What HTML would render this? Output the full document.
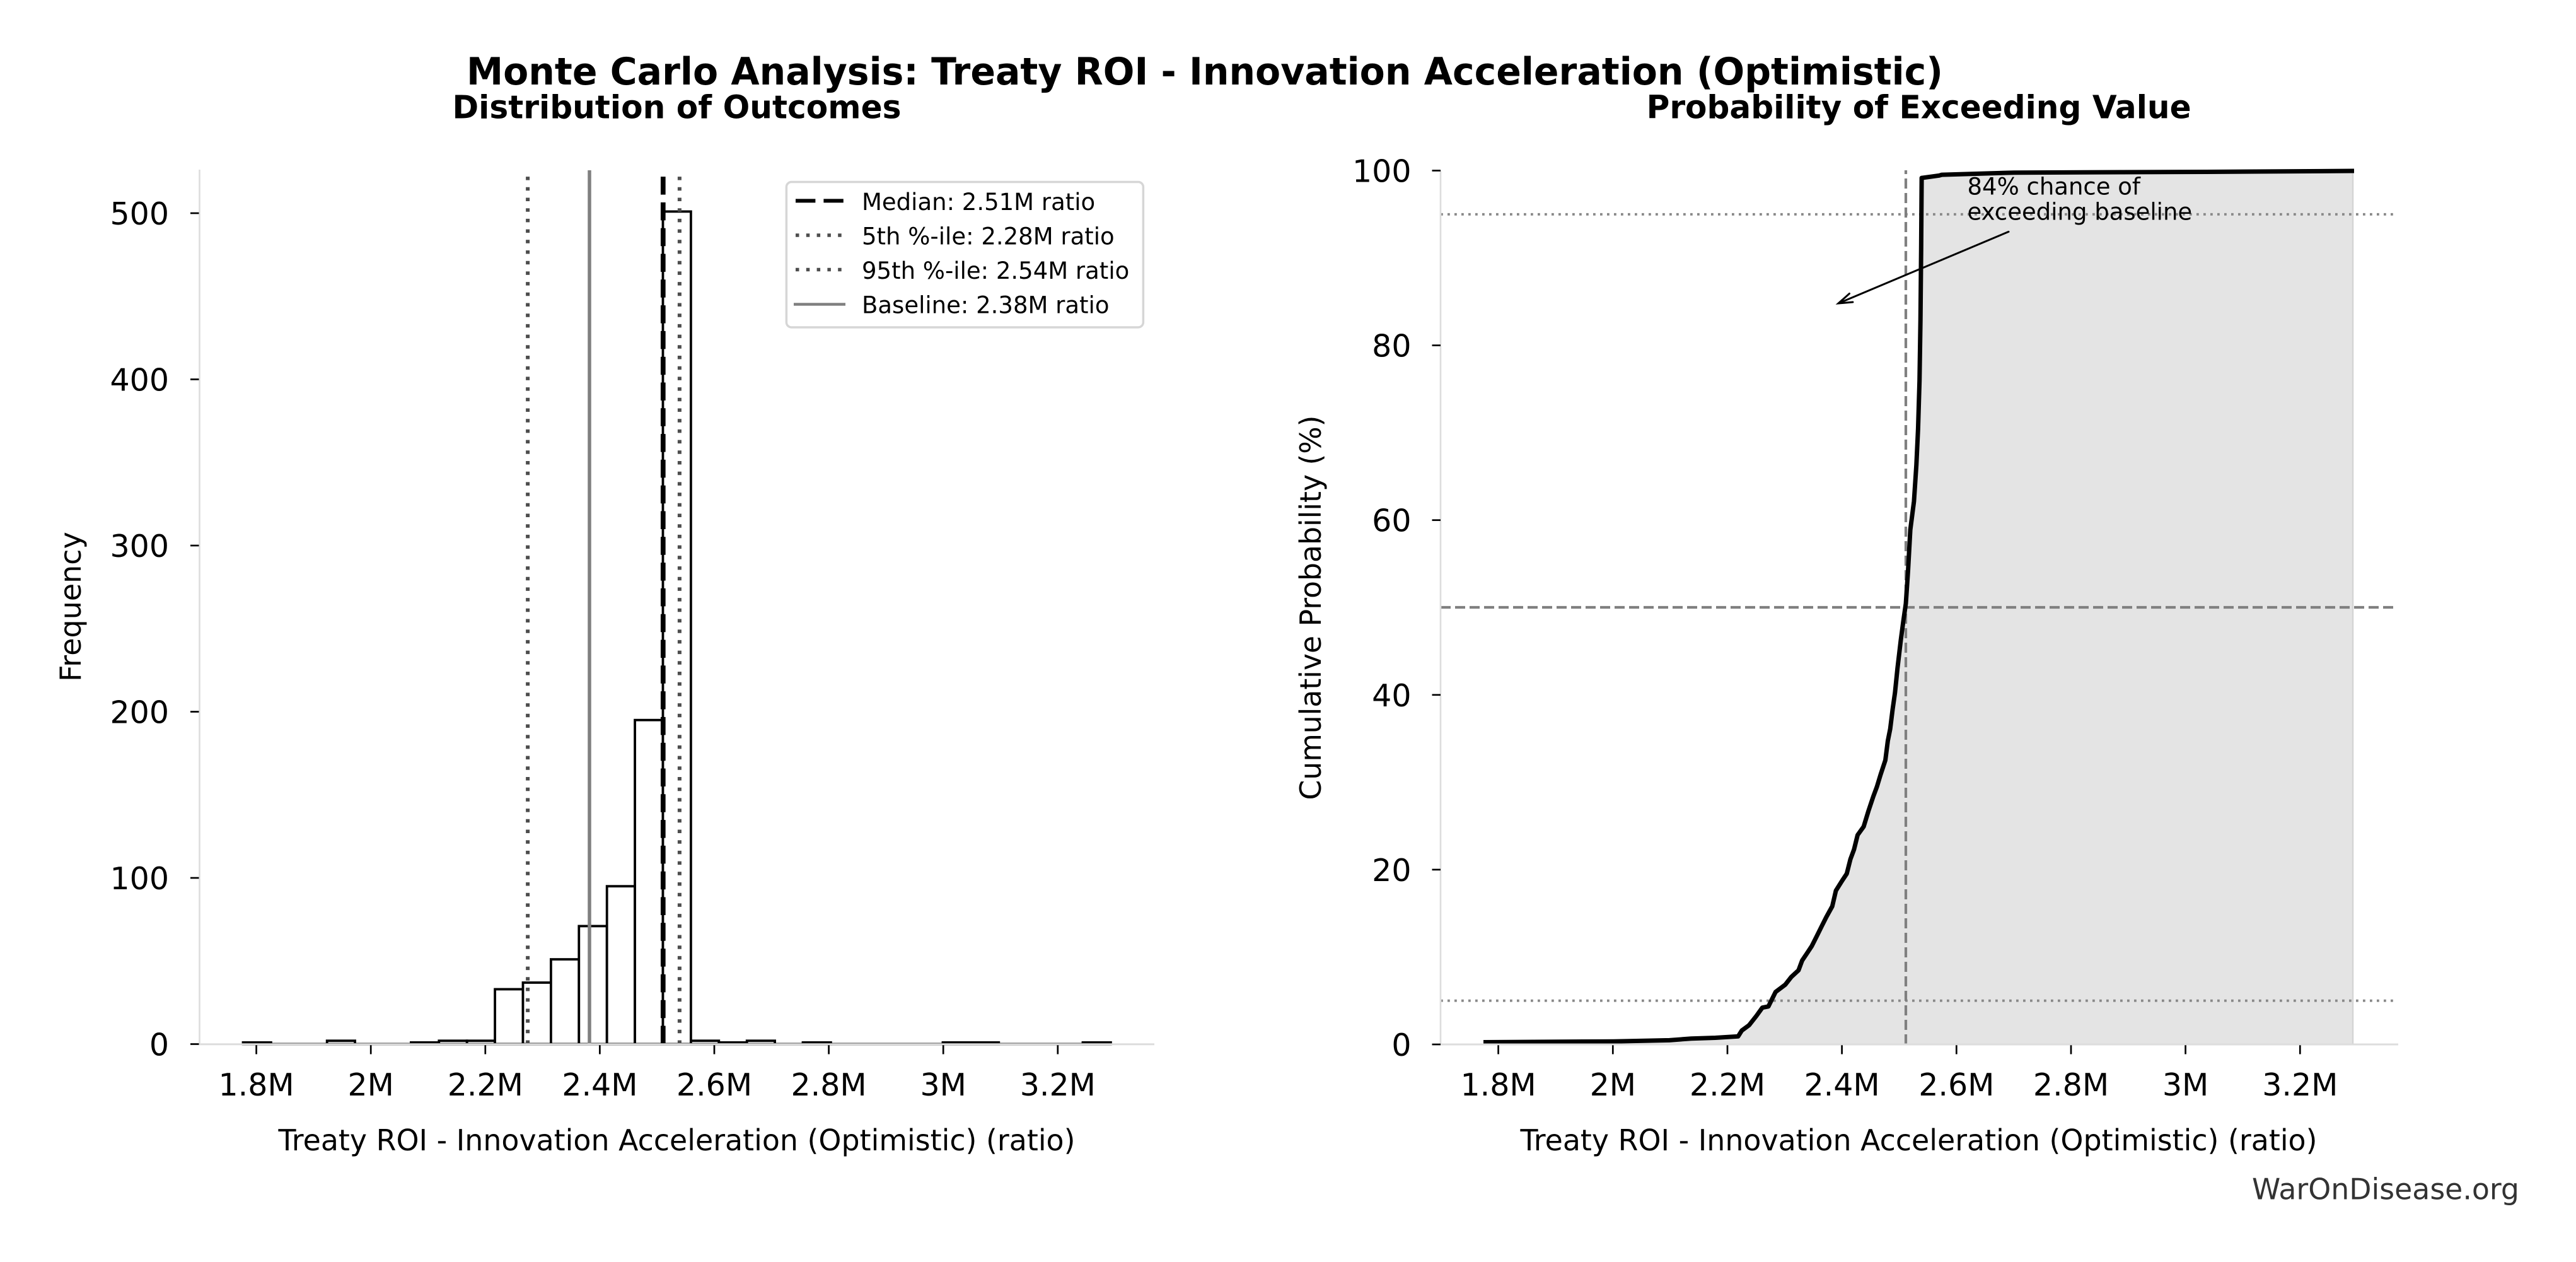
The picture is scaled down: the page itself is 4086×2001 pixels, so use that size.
<!DOCTYPE html>
<html>
<head>
<meta charset="utf-8">
<style>
html,body{margin:0;padding:0;background:#fff;}
svg{display:block;}
text{font-family:"DejaVu Sans","Liberation Sans",sans-serif;fill:#000;}
</style>
</head>
<body>
<svg width="4086" height="2001" viewBox="0 0 4086 2001" xmlns="http://www.w3.org/2000/svg">
<rect x="0" y="0" width="4086" height="2001" fill="#fff"/>

<!-- Titles -->
<text x="740" y="134" font-size="60" font-weight="bold" textLength="2342" lengthAdjust="spacingAndGlyphs">Monte Carlo Analysis: Treaty ROI - Innovation Acceleration (Optimistic)</text>
<text x="1073.5" y="187.5" font-size="51" font-weight="bold" text-anchor="middle" textLength="712" lengthAdjust="spacingAndGlyphs">Distribution of Outcomes</text>
<text x="3043.6" y="187.5" font-size="51" font-weight="bold" text-anchor="middle" textLength="864" lengthAdjust="spacingAndGlyphs">Probability of Exceeding Value</text>

<!-- ================= LEFT CHART ================= -->
<g fill="#fff" stroke="#000" stroke-width="3.8">
<line x1="385.5" y1="1655.5" x2="1761.9" y2="1655.5"/>
<rect x="385.5" y="1652.9" width="44.4" height="2.6"/>
<rect x="518.7" y="1650.2" width="44.4" height="5.3"/>
<rect x="651.9" y="1652.9" width="44.4" height="2.6"/>
<rect x="696.3" y="1650.2" width="44.4" height="5.3"/>
<rect x="740.7" y="1650.2" width="44.4" height="5.3"/>
<rect x="785.1" y="1568.5" width="44.4" height="87"/>
<rect x="829.5" y="1558" width="44.4" height="97.5"/>
<rect x="873.9" y="1521.1" width="44.4" height="134.4"/>
<rect x="918.3" y="1468.4" width="44.4" height="187.1"/>
<rect x="962.7" y="1405.2" width="44.4" height="250.3"/>
<rect x="1007.1" y="1141.7" width="44.4" height="513.8"/>
<rect x="1051.5" y="335.4" width="44.4" height="1320.1"/>
<rect x="1095.9" y="1650.2" width="44.4" height="5.3"/>
<rect x="1140.3" y="1652.9" width="44.4" height="2.6"/>
<rect x="1184.7" y="1650.2" width="44.4" height="5.3"/>
<rect x="1273.5" y="1652.9" width="44.4" height="2.6"/>
<rect x="1495.5" y="1652.9" width="44.4" height="2.6"/>
<rect x="1539.9" y="1652.9" width="44.4" height="2.6"/>
<rect x="1717.5" y="1652.9" width="44.4" height="2.6"/>
</g>

<line x1="837.1" y1="1655" x2="837.1" y2="270" stroke="#4d4d4d" stroke-width="6" stroke-dasharray="5.5 11.2"/>
<line x1="935" y1="1655" x2="935" y2="270" stroke="#808080" stroke-width="5.5"/>
<line x1="1051.8" y1="1655" x2="1051.8" y2="270" stroke="#000" stroke-width="7.7" stroke-dasharray="28.5 12.3"/>
<line x1="1077.9" y1="1655" x2="1077.9" y2="270" stroke="#4d4d4d" stroke-width="6" stroke-dasharray="5.5 11.2"/>

<line x1="316.5" y1="269" x2="316.5" y2="1657" stroke="#dddddd" stroke-width="2.6"/>
<line x1="315.5" y1="1655.8" x2="1831" y2="1655.8" stroke="#dddddd" stroke-width="3"/>

<g stroke="#000" stroke-width="2.7">
<line x1="302" y1="1655.5" x2="315.5" y2="1655.5"/>
<line x1="302" y1="1392" x2="315.5" y2="1392"/>
<line x1="302" y1="1128.5" x2="315.5" y2="1128.5"/>
<line x1="302" y1="865" x2="315.5" y2="865"/>
<line x1="302" y1="601.5" x2="315.5" y2="601.5"/>
<line x1="302" y1="338" x2="315.5" y2="338"/>
</g>
<g font-size="49" text-anchor="end">
<text x="268" y="1673.5">0</text>
<text x="268" y="1410">100</text>
<text x="268" y="1146.5">200</text>
<text x="268" y="883">300</text>
<text x="268" y="619.5">400</text>
<text x="268" y="356">500</text>
</g>

<g stroke="#000" stroke-width="2.7">
<line x1="406.6" y1="1657.3" x2="406.6" y2="1671.5"/>
<line x1="588.2" y1="1657.3" x2="588.2" y2="1671.5"/>
<line x1="769.8" y1="1657.3" x2="769.8" y2="1671.5"/>
<line x1="951.4" y1="1657.3" x2="951.4" y2="1671.5"/>
<line x1="1133" y1="1657.3" x2="1133" y2="1671.5"/>
<line x1="1314.6" y1="1657.3" x2="1314.6" y2="1671.5"/>
<line x1="1496.2" y1="1657.3" x2="1496.2" y2="1671.5"/>
<line x1="1677.8" y1="1657.3" x2="1677.8" y2="1671.5"/>
</g>
<g font-size="49" text-anchor="middle">
<text x="406.6" y="1737">1.8M</text>
<text x="588.2" y="1737">2M</text>
<text x="769.8" y="1737">2.2M</text>
<text x="951.4" y="1737">2.4M</text>
<text x="1133" y="1737">2.6M</text>
<text x="1314.6" y="1737">2.8M</text>
<text x="1496.2" y="1737">3M</text>
<text x="1677.8" y="1737">3.2M</text>
</g>

<text x="1073.5" y="1824" font-size="46.5" text-anchor="middle" textLength="1264" lengthAdjust="spacingAndGlyphs">Treaty ROI - Innovation Acceleration (Optimistic) (ratio)</text>
<text transform="translate(128,962) rotate(-90)" x="0" y="0" font-size="46" text-anchor="middle">Frequency</text>

<rect x="1247.4" y="288.5" width="566" height="230.5" rx="8" ry="8" fill="#fff" stroke="#d6d6d6" stroke-width="3.5"/>
<line x1="1262" y1="318.4" x2="1338" y2="318.4" stroke="#000" stroke-width="6" stroke-dasharray="31.4 13"/>
<line x1="1262" y1="373" x2="1340" y2="373" stroke="#4d4d4d" stroke-width="5.5" stroke-dasharray="5.5 11.3"/>
<line x1="1262" y1="427.5" x2="1340" y2="427.5" stroke="#4d4d4d" stroke-width="5.5" stroke-dasharray="5.5 11.3"/>
<line x1="1259" y1="482.5" x2="1341" y2="482.5" stroke="#808080" stroke-width="4.4"/>
<g font-size="37">
<text x="1367" y="332.9">Median: 2.51M ratio</text>
<text x="1367" y="387.6">5th %-ile: 2.28M ratio</text>
<text x="1367" y="442">95th %-ile: 2.54M ratio</text>
<text x="1367" y="496.4">Baseline: 2.38M ratio</text>
</g>

<!-- ================= RIGHT CHART ================= -->
<path fill="#e4e4e4" stroke="none" d="M2353,1656 L2353,1652.5 L2510,1651.5 L2560,1651.3 L2648,1649.4 L2682.5,1646.7 L2720.7,1645.5 L2757,1643.2 L2762.8,1634 L2774.3,1625.6 L2785.8,1611 L2795.4,1597.7 L2805,1595.8 L2816.4,1572.8 L2831.7,1561.3 L2841.3,1549.1 L2852.8,1538.4 L2858.5,1523 L2866.2,1511.6 L2873.8,1500.1 L2881.5,1484.8 L2889.1,1469.5 L2896.8,1454.2 L2906.3,1437 L2912.1,1412.1 L2921.7,1396.8 L2929.3,1385.3 L2935.1,1362.3 L2940.8,1347 L2946.5,1324 L2956.1,1310.7 L2963.7,1285.8 L2971.4,1262.8 L2977.1,1247.5 L2982.9,1228.4 L2990.5,1205.4 L2994.4,1174.8 L2998.2,1155.7 L3002,1125 L3005.8,1098.3 L3009.7,1060 L3015,1015 L3019,985 L3023,957 L3026.5,905 L3030.1,840 L3035.9,794.9 L3039.7,737.5 L3042.4,680 L3044.7,603.6 L3046.2,507.9 L3047.3,393 L3048.1,282.1 L3076,278.3 L3079.9,277.1 L3194.7,273.7 L3500,272.5 L3732,271 L3732,1656 Z"/>
<line x1="3732" y1="271" x2="3732" y2="1656" stroke="#d4d4d4" stroke-width="2.5"/>

<line x1="2285" y1="339.8" x2="3802" y2="339.8" stroke="#888" stroke-width="3.8" stroke-dasharray="3.8 7.2"/>
<line x1="2285" y1="1586.7" x2="3802" y2="1586.7" stroke="#888" stroke-width="3.8" stroke-dasharray="3.8 7.2"/>
<line x1="2285" y1="963" x2="3802" y2="963" stroke="#808080" stroke-width="4.2" stroke-dasharray="16 7"/>
<line x1="3023" y1="1656" x2="3023" y2="270" stroke="#808080" stroke-width="4.2" stroke-dasharray="16 7"/>

<path fill="none" stroke="#000" stroke-width="7" stroke-linejoin="round" stroke-linecap="butt" d="M2353,1652.5 L2510,1651.5 L2560,1651.3 L2648,1649.4 L2682.5,1646.7 L2720.7,1645.5 L2757,1643.2 L2762.8,1634 L2774.3,1625.6 L2785.8,1611 L2795.4,1597.7 L2805,1595.8 L2816.4,1572.8 L2831.7,1561.3 L2841.3,1549.1 L2852.8,1538.4 L2858.5,1523 L2866.2,1511.6 L2873.8,1500.1 L2881.5,1484.8 L2889.1,1469.5 L2896.8,1454.2 L2906.3,1437 L2912.1,1412.1 L2921.7,1396.8 L2929.3,1385.3 L2935.1,1362.3 L2940.8,1347 L2946.5,1324 L2956.1,1310.7 L2963.7,1285.8 L2971.4,1262.8 L2977.1,1247.5 L2982.9,1228.4 L2990.5,1205.4 L2994.4,1174.8 L2998.2,1155.7 L3002,1125 L3005.8,1098.3 L3009.7,1060 L3015,1015 L3019,985 L3023,957 L3026.5,905 L3030.1,840 L3035.9,794.9 L3039.7,737.5 L3042.4,680 L3044.7,603.6 L3046.2,507.9 L3047.3,393 L3048.1,282.1 L3076,278.3 L3079.9,277.1 L3194.7,273.7 L3500,272.5 L3734,271"/>

<line x1="2285" y1="270" x2="2285" y2="1657" stroke="#dddddd" stroke-width="2.6"/>
<line x1="2284" y1="1656" x2="3804" y2="1656" stroke="#dddddd" stroke-width="3"/>

<g stroke="#000" stroke-width="2.7">
<line x1="2271.5" y1="1656" x2="2285" y2="1656"/>
<line x1="2271.5" y1="1378.9" x2="2285" y2="1378.9"/>
<line x1="2271.5" y1="1101.8" x2="2285" y2="1101.8"/>
<line x1="2271.5" y1="824.7" x2="2285" y2="824.7"/>
<line x1="2271.5" y1="547.6" x2="2285" y2="547.6"/>
<line x1="2271.5" y1="270.5" x2="2285" y2="270.5"/>
</g>
<g font-size="49" text-anchor="end">
<text x="2238.5" y="1674">0</text>
<text x="2238.5" y="1396.9">20</text>
<text x="2238.5" y="1119.8">40</text>
<text x="2238.5" y="842.7">60</text>
<text x="2238.5" y="565.6">80</text>
<text x="2238.5" y="288.5">100</text>
</g>

<g stroke="#000" stroke-width="2.7">
<line x1="2376.6" y1="1657.3" x2="2376.6" y2="1671.5"/>
<line x1="2558.3" y1="1657.3" x2="2558.3" y2="1671.5"/>
<line x1="2740" y1="1657.3" x2="2740" y2="1671.5"/>
<line x1="2921.6" y1="1657.3" x2="2921.6" y2="1671.5"/>
<line x1="3103.3" y1="1657.3" x2="3103.3" y2="1671.5"/>
<line x1="3285" y1="1657.3" x2="3285" y2="1671.5"/>
<line x1="3466.6" y1="1657.3" x2="3466.6" y2="1671.5"/>
<line x1="3648.3" y1="1657.3" x2="3648.3" y2="1671.5"/>
</g>
<g font-size="49" text-anchor="middle">
<text x="2376.6" y="1737">1.8M</text>
<text x="2558.3" y="1737">2M</text>
<text x="2740" y="1737">2.2M</text>
<text x="2921.6" y="1737">2.4M</text>
<text x="3103.3" y="1737">2.6M</text>
<text x="3285" y="1737">2.8M</text>
<text x="3466.6" y="1737">3M</text>
<text x="3648.3" y="1737">3.2M</text>
</g>

<text x="3043.5" y="1824" font-size="46.5" text-anchor="middle" textLength="1264" lengthAdjust="spacingAndGlyphs">Treaty ROI - Innovation Acceleration (Optimistic) (ratio)</text>
<text transform="translate(2095,963.5) rotate(-90)" x="0" y="0" font-size="46" text-anchor="middle" textLength="610" lengthAdjust="spacingAndGlyphs">Cumulative Probability (%)</text>

<g font-size="37">
<text x="3120.5" y="308.5">84% chance of</text>
<text x="3120.5" y="348.5">exceeding baseline</text>
</g>
<g stroke="#000" stroke-width="3" fill="none" stroke-linecap="round">
<line x1="3186" y1="367.4" x2="2917" y2="480.6"/>
<polyline points="2933.5,465.5 2916,481 2938.9,479"/>
</g>

<text x="3996" y="1901.7" font-size="46" text-anchor="end" fill="#333" style="fill:#333" textLength="424" lengthAdjust="spacingAndGlyphs">WarOnDisease.org</text>
</svg>
</body>
</html>
